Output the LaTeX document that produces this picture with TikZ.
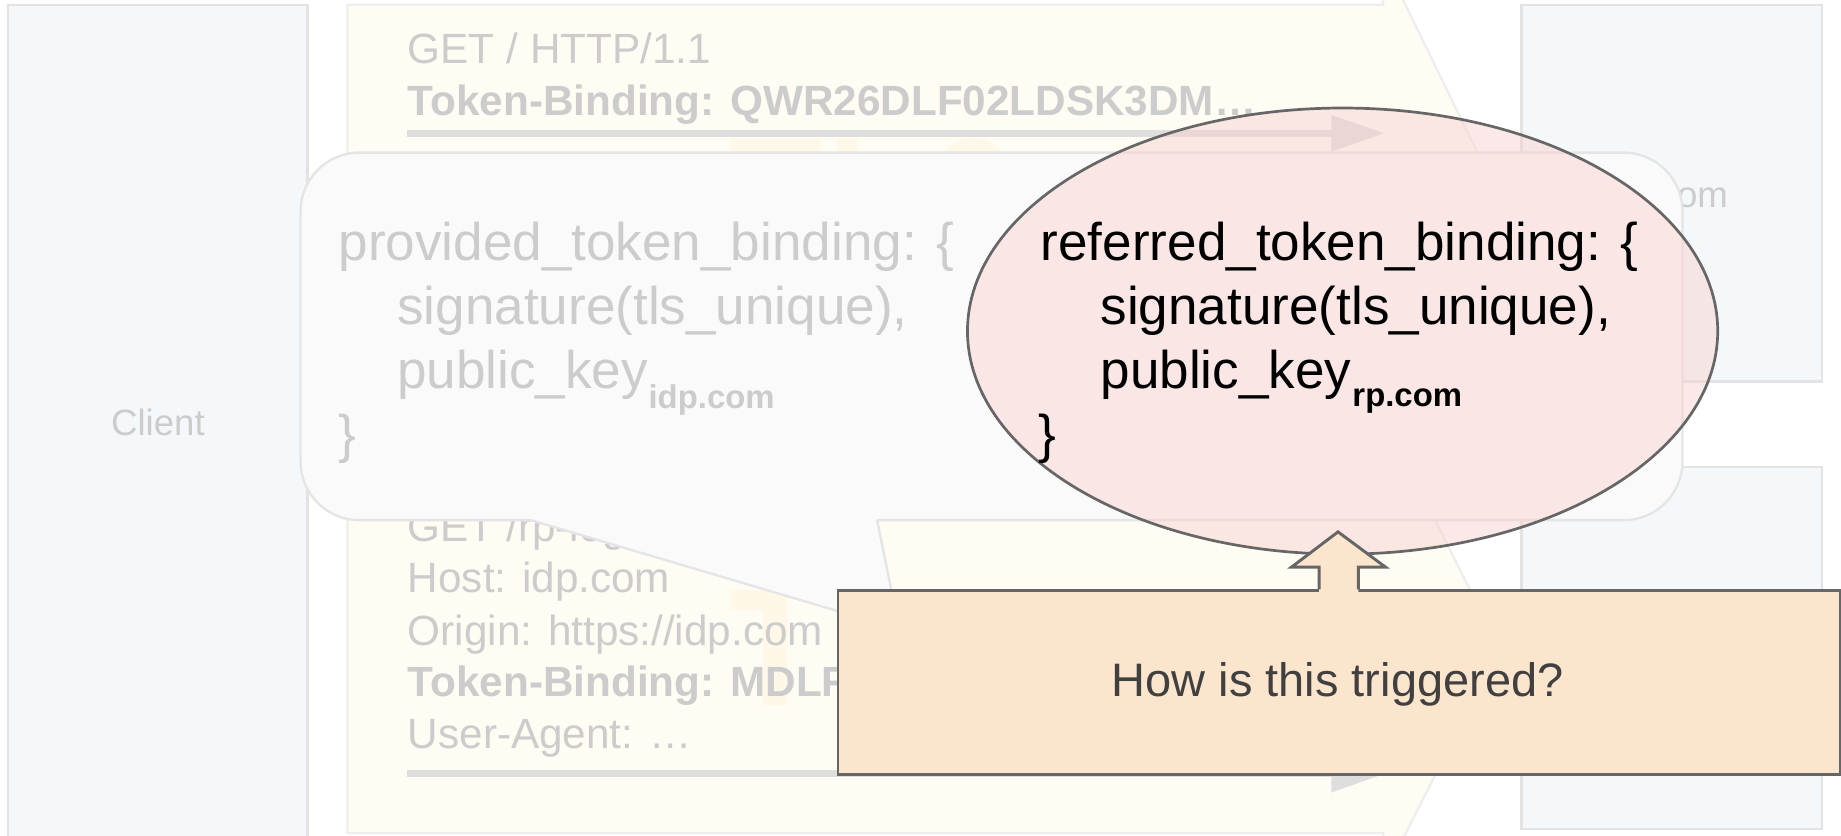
\documentclass[tikz,border=0pt]{standalone}
\usepackage{fontspec}
\setmainfont{Liberation Sans}
\usetikzlibrary{shapes.geometric}
\definecolor{boxfill}{HTML}{F5F8FB}
\definecolor{boxline}{HTML}{E3E3E3}
\definecolor{panelfill}{HTML}{FFFCF3}
\definecolor{panelline}{HTML}{EEEEEE}
\definecolor{fadetext}{HTML}{CCCCCC}
\definecolor{fadearrow}{HTML}{DEDEDE}
\definecolor{calloutfill}{HTML}{FAFAFA}
\definecolor{calloutline}{HTML}{E5E5E5}
\definecolor{pinkfill}{HTML}{F8CECC}
\definecolor{darkline}{HTML}{666666}
\definecolor{peach}{HTML}{FCE5CD}
\definecolor{qtext}{HTML}{404040}
\definecolor{faintgold}{HTML}{FFF8E8}
\tikzset{
  hostbox/.style={draw=boxline, fill=boxfill, line width=1pt},
  panel/.style={draw=panelline, fill=panelfill, line width=1pt},
  hostlabel/.style={inner sep=0pt, anchor=base, text=fadetext, font=\fontsize{15.6}{18}\selectfont},
  fadelabel/.style={inner sep=0pt, anchor=base west, text=fadetext, font=\fontsize{18}{22}\selectfont},
  fadebold/.style={inner sep=0pt, anchor=base west, text=fadetext, font=\fontsize{18}{22}\selectfont\bfseries},
  biglabel/.style={inner sep=0pt, anchor=base west, font=\fontsize{22.6}{27}\selectfont},
  sublabel/.style={inner sep=0pt, anchor=base west, font=\fontsize{14}{16}\selectfont\bfseries},
  msgarrow/.style={draw=fadearrow, line width=3pt},
  msghead/.style={fill=fadearrow},
  faint/.style={fill=faintgold},
}
\begin{document}
\begin{tikzpicture}[x=0.5pt,y=-0.5pt]
\useasboundingbox (0,0) rectangle (1568,712);
\clip (0,0) rectangle (1568,712);
\fill[white] (0,0) rectangle (1568,712);

% host boxes
\draw[hostbox] (7,4) rectangle (262,730);
\node[hostlabel] (clientlabel) at (134.5,371) {Client};
\draw[hostbox] (1296,4) rectangle (1552,325);
\node[hostlabel] (rplabel) at (1424,177) {rp.com};
\draw[hostbox] (1296,398) rectangle (1552,706);

% request panels (block arrows)
\draw[panel] (296,4) -- (1178,4) -- (1178,-35) -- (1290,195) -- (1178,425) -- (1178,400) -- (296,400) -- cycle;
\draw[panel] (296,440) -- (1178,440) -- (1178,354) -- (1277,552.5) -- (1178,747.5) -- (1178,709.5) -- (296,709.5) -- cycle;

% faint background shapes
\fill[faint] (622,117.5) rectangle (698,140);
\fill[faint] (713,117.5) rectangle (731,140);
\fill[faint] (829,148.5) circle[radius=31];
\fill[faint] (622,502.5) rectangle (670,519.5);
\fill[faint] (650,519.5) rectangle (670,600.5);

% top request text
\node[fadelabel] (req1a) at (347,54) {GET / HTTP/1.1};
\node[fadebold] (req1b) at (347,98) {Token-Binding: QWR26DLF02LDSK3DM…};
\draw[msgarrow] (347,113.5) -- (1136,113.5);
\fill[msghead] (1134,98) -- (1179,113.5) -- (1134,129) -- cycle;

% bottom request text
\node[fadelabel] (req2a) at (347,461) {GET /rp-login HTTP/1.1};
\node[fadelabel] (req2b) at (347,505) {Host: idp.com};
\node[fadelabel] (req2c) at (347,549.5) {Origin: https://idp.com};
\node[fadebold] (req2d) at (347,593.5) {Token-Binding: MDLF…};
\node[fadelabel] (req2e) at (347,637.5) {User-Agent: …};
\draw[msgarrow] (347,659) -- (1136,659);
\fill[msghead] (1134,643) -- (1179,659) -- (1134,675) -- cycle;

% grey callout
\fill[calloutfill, rounded corners=25pt] (256,130) rectangle (1433,443);
\fill[calloutfill] (452,442) -- (766,536) -- (747,442) -- cycle;
\draw[calloutline, line width=1pt, rounded corners=25pt] (747,443) -- (1433,443) -- (1433,130) -- (256,130) -- (256,443) -- (452,443);
\draw[calloutline, line width=1pt, line join=miter] (452,443) -- (766,536) -- (747,443);

\node[biglabel, text=fadetext] (prov1) at (288,221.5) {provided\_token\_binding: \{};
\node[biglabel, text=fadetext] (prov2) at (338,276) {signature(tls\_unique),};
\node[biglabel, text=fadetext] (prov3) at (338,330.5) {public\_key};
\node[sublabel, text=fadetext] (prov3s) at (552,347.5) {idp.com};
\node[biglabel, text=fadetext] (prov4) at (288,385) {\}};

% pink ellipse
\node[ellipse, draw=darkline, line width=1.15pt, fill=pinkfill, fill opacity=0.45, draw opacity=1,
      minimum width=319.5pt, minimum height=190pt, inner sep=0pt] (bubble) at (1143.5,282) {};
\node[biglabel, text=black] (ref1) at (886,221.5) {referred\_token\_binding: \{};
\node[biglabel, text=black] (ref2) at (937,276) {signature(tls\_unique),};
\node[biglabel, text=black] (ref3) at (937,330.5) {public\_key};
\node[sublabel, text=black] (ref3s) at (1151.5,346.5) {rp.com};
\node[biglabel, text=black] (ref4) at (884,385) {\}};

% question box
\node[draw=darkline, fill=peach, line width=1.25pt, minimum width=426.75pt, minimum height=78pt,
      inner sep=0pt, anchor=north west] (question) at (712.5,502) {};
\node[inner sep=0pt, anchor=base, text=qtext, font=\fontsize{20}{24}\selectfont] (questiontext) at (1139.3,593.5) {How is this triggered?};

% up arrow from question box to ellipse
\fill[peach] (1123.5,504) -- (1123.5,483) -- (1100,483) -- (1139.6,453) -- (1180,483) -- (1157,483) -- (1157,504) -- cycle;
\draw[darkline, line width=1.25pt, line join=miter] (1123.5,502) -- (1123.5,483) -- (1100,483) -- (1139.6,453) -- (1180,483) -- (1157,483) -- (1157,502);
\end{tikzpicture}
\end{document}
